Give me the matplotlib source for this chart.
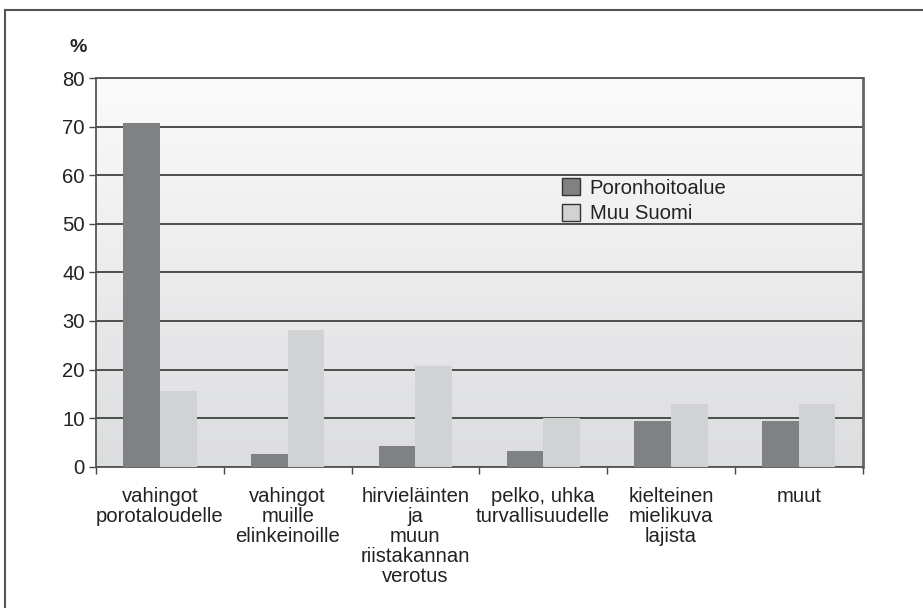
import numpy as np
import matplotlib
matplotlib.use("Agg")
import matplotlib.pyplot as plt
from matplotlib.lines import Line2D
from matplotlib.patches import Patch
from matplotlib.colors import LinearSegmentedColormap

categories = ["vahingot\nporotaloudelle", "vahingot\nmuille\nelinkeinoille",
              "hirvieläinten\nja\nmuun\nriistakannan\nverotus",
              "pelko, uhka\nturvallisuudelle", "kielteinen\nmielikuva\nlajista", "muut"]
poronhoitoalue = [70.8, 2.6, 4.3, 3.2, 9.5, 9.5]
muu_suomi = [15.6, 28.1, 20.7, 10.0, 12.9, 12.9]
series_names = ["Poronhoitoalue", "Muu Suomi"]
yticks = [0, 10, 20, 30, 40, 50, 60, 70, 80]

FONT = ["Liberation Sans Narrow", "Liberation Sans", "DejaVu Sans"]
plt.rcParams["font.family"] = FONT
FS = 14.6

W, H = 923, 608
fig = plt.figure(figsize=(W / 100, H / 100), dpi=100)
ax = fig.add_axes([96 / W, 1 - 466.7 / H, (862.7 - 96) / W, (466.7 - 78) / H])

# gradient background
grad = np.linspace(0, 1, 256).reshape(-1, 1)
cmap = LinearSegmentedColormap.from_list("bg", ["#fbfbfb", "#dcdddf"])
ax.imshow(grad, aspect="auto", cmap=cmap, extent=[0, 1, 0, 1],
          transform=ax.transAxes, zorder=0)

x = np.arange(len(categories))
bw = 0.287
c_dark = "#808183"
c_light = "#d1d2d4"
ax.bar(x - bw / 2, poronhoitoalue, bw, color=c_dark, zorder=3, label=series_names[0])
ax.bar(x + bw / 2, muu_suomi, bw, color=c_light, zorder=3, label=series_names[1])

ax.set_xlim(-0.5, len(categories) - 0.5)
ax.set_ylim(0, 80)
ax.set_yticks(yticks)
ax.set_yticklabels([str(v) for v in yticks], fontsize=FS, color="#222222")
ax.yaxis.grid(True, color="#4d4d4d", linewidth=1.4, zorder=1)
ax.set_axisbelow(True)

ax.set_xticks(np.arange(len(categories) + 1) - 0.5)
ax.set_xticklabels([])
ax.tick_params(axis="x", direction="out", length=5, width=1, color="#444444")
ax.tick_params(axis="y", direction="out", length=5, width=1, color="#444444", pad=3)
for i, lab in enumerate(categories):
    ax.text(i, -4.2, lab, ha="center", va="top", fontsize=FS, color="#222222",
            linespacing=1.06, transform=ax.transData, clip_on=False)

for s in ["left", "bottom", "top"]:
    ax.spines[s].set_color("#555555")
    ax.spines[s].set_linewidth(1.3)
ax.spines["right"].set_color("#666666")
ax.spines["right"].set_linewidth(2)

handles = [Patch(facecolor=c_dark, edgecolor="#333333", linewidth=1),
           Patch(facecolor=c_light, edgecolor="#333333", linewidth=1)]
leg = fig.legend(handles, series_names, loc="upper left",
                 bbox_to_anchor=(548 / W, 1 - 164 / H), frameon=False,
                 fontsize=FS, handlelength=0.9, handleheight=0.9,
                 handletextpad=0.45, labelspacing=0.3, borderpad=0.2)
for t in leg.get_texts():
    t.set_color("#222222")

fig.text(78 / W, 1 - 47 / H, "%", fontsize=14, fontweight="bold", ha="center",
         va="center", color="#222222")

# outer frame lines (top and left)
fig.add_artist(Line2D([5 / W, 1], [1 - 10 / H, 1 - 10 / H], color="#555555", linewidth=1.5))
fig.add_artist(Line2D([5 / W, 5 / W], [0, 1 - 10 / H], color="#555555", linewidth=1.5))

fig.savefig("out.png", dpi=100)
